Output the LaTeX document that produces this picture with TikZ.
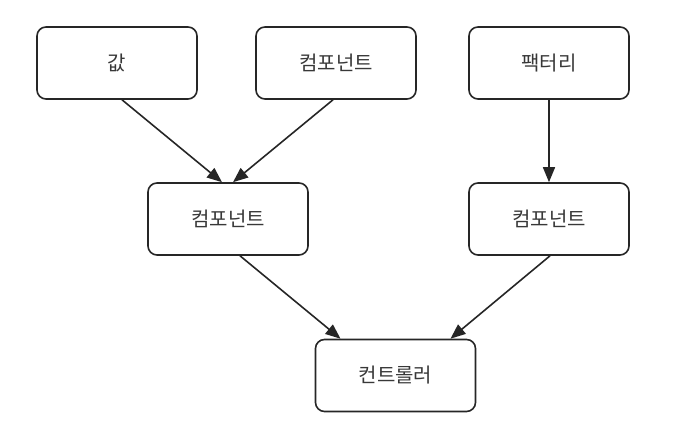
\documentclass[tikz,border=0pt]{standalone}
\usepackage{fontspec}
\newfontfamily\kr{Noto Sans CJK KR}
\usetikzlibrary{arrows.meta}
\begin{document}
\begin{tikzpicture}[x=1pt,y=1pt,
  box/.style={draw=black!85,line width=1.6pt,rounded corners=9pt,minimum width=160pt,minimum height=72pt,inner sep=0pt,text=black!78,font=\kr\fontsize{20}{22}\selectfont},
  conn/.style={draw=black!85,line width=1.6pt,-{Triangle[length=15pt,width=12pt]}}]
\useasboundingbox (0,0) rectangle (697,435);
\node[box] (v) at (117,372) {값};
\node[box] (c1) at (336,372) {컴포넌트};
\node[box] (f) at (549,372) {팩터리};
\node[box] (ml) at (228,216) {컴포넌트};
\node[box] (mr) at (549,216) {컴포넌트};
\node[box] (ct) at (395.5,59.5) {컨트롤러};
\draw[conn] ([xshift=5pt]v.south) -- ([xshift=-6pt]ml.north);
\draw[conn] ([xshift=-3pt]c1.south) -- ([xshift=5pt]ml.north);
\draw[conn] (f.south) -- (mr.north);
\draw[conn] ([xshift=12pt]ml.south) -- ([xshift=-55pt]ct.north);
\draw[conn] ([xshift=1pt]mr.south) -- ([xshift=55pt]ct.north);
\end{tikzpicture}
\end{document}
